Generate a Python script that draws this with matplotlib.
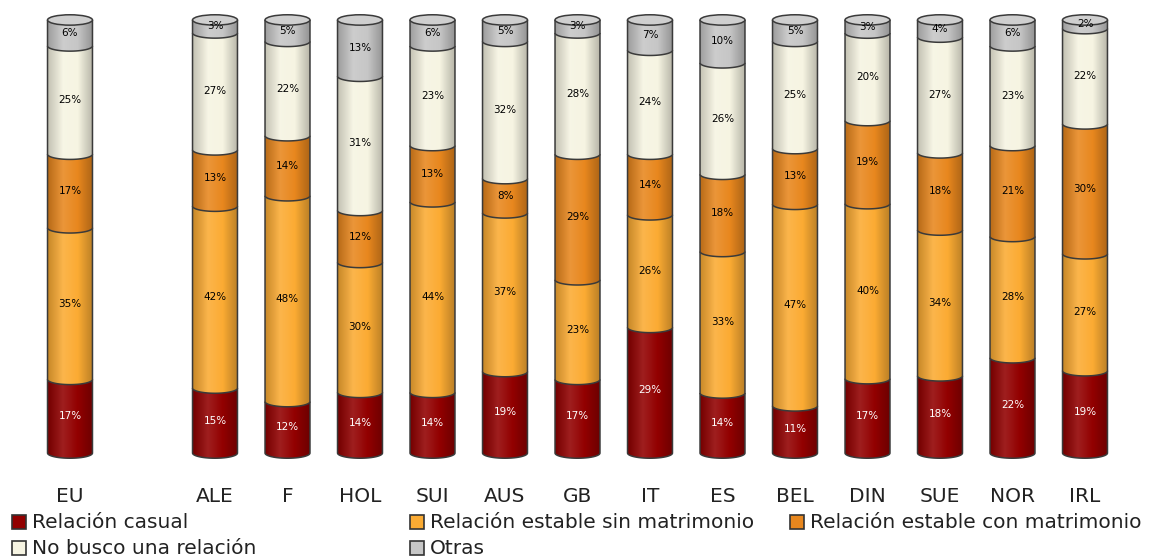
import numpy as np
import matplotlib
matplotlib.use("Agg")
import matplotlib.pyplot as plt
from matplotlib.path import Path
from matplotlib.patches import PathPatch, Ellipse, Rectangle
from matplotlib.colors import LinearSegmentedColormap, to_rgb

# data (percent, bottom to top)
countries = ["EU", "ALE", "F", "HOL", "SUI", "AUS", "GB", "IT", "ES", "BEL", "DIN", "SUE", "NOR", "IRL"]
positions = [0, 2, 3, 4, 5, 6, 7, 8, 9, 10, 11, 12, 13, 14]
casual = [17, 15, 12, 14, 14, 19, 17, 29, 14, 11, 17, 18, 22, 19]
sin_matrimonio = [35, 42, 48, 30, 44, 37, 23, 26, 33, 47, 40, 34, 28, 27]
con_matrimonio = [17, 13, 14, 12, 13, 8, 29, 14, 18, 13, 19, 18, 21, 30]
no_busco = [25, 27, 22, 31, 23, 32, 28, 24, 26, 25, 20, 27, 23, 22]
otras = [6, 3, 5, 13, 6, 5, 3, 7, 10, 5, 3, 4, 6, 2]

series = [casual, sin_matrimonio, con_matrimonio, no_busco, otras]
names = ["Relación casual", "Relación estable sin matrimonio", "Relación estable con matrimonio",
         "No busco una relación", "Otras"]
colors = ["#920000", "#fbab33", "#e8871e", "#f6f4e2", "#c6c6c6"]
text_colors = ["white", "black", "black", "black", "black"]

W = 1169
H = 560
fig = plt.figure(figsize=(W / 100, H / 100), dpi=100)
fig.patch.set_facecolor("white")

slot = 72.5
xmin = -70 / slot
xmax = xmin + W / slot
px_per = 4.35
ax = fig.add_axes([0, 1 - 462 / H, 1, (462 - 12) / H])
ax.set_xlim(xmin, xmax)
ax.set_ylim(-9 / px_per, 100 + 8 / px_per)
for s in ax.spines.values():
    s.set_visible(False)
ax.set_yticks([])

bw = 0.62
eh = 2.4  # ellipse height in percent units


def shade(c, f):
    r = np.array(to_rgb(c))
    if f >= 1:
        return tuple(r + (1 - r) * (f - 1))
    return tuple(r * f)


grad = np.linspace(0, 1, 64).reshape(1, -1)

for i, x in enumerate(positions):
    total = sum(s[i] for s in series)
    bottom = 0
    for k, vals in enumerate(series):
        v = vals[i]
        h = v * 100 / total  # stacked to 100%
        y0, y1 = bottom, bottom + h
        t = np.linspace(np.pi, 2 * np.pi, 40)
        arc = np.column_stack([x + bw / 2 * np.cos(t), y0 + eh / 2 * np.sin(t)])
        verts = np.vstack([[x - bw / 2, y1], arc, [x + bw / 2, y1], [x - bw / 2, y1]])
        codes = [Path.MOVETO] + [Path.LINETO] * (len(verts) - 2) + [Path.CLOSEPOLY]
        clip = PathPatch(Path(verts, codes), facecolor="none", edgecolor="none")
        ax.add_patch(clip)
        c = colors[k]
        cmap = LinearSegmentedColormap.from_list(
            "g", [shade(c, 0.8), shade(c, 1.12), c, shade(c, 0.75)])
        im = ax.imshow(grad, extent=[x - bw / 2, x + bw / 2, y0 - eh / 2, y1],
                       cmap=cmap, aspect="auto", interpolation="bilinear", zorder=2 + k)
        im.set_clip_path(clip)
        outline = np.vstack([[x - bw / 2, y1], arc, [x + bw / 2, y1]])
        ax.add_patch(PathPatch(Path(outline), facecolor="none", edgecolor="#3a3a3a",
                               lw=1.1, zorder=2.5 + k))
        ax.text(x, (y0 + y1) / 2, f"{v}%", ha="center", va="center", fontsize=7.5,
                color=text_colors[k], zorder=10)
        bottom = y1
    # top cap
    ax.add_patch(Ellipse((x, bottom), bw, eh, facecolor=shade(colors[-1], 1.15),
                         edgecolor="#3a3a3a", lw=1.1, zorder=9))

ax.set_xticks(positions, countries)
ax.tick_params(axis="x", length=0, pad=18, labelsize=14.5)
for lab in ax.get_xticklabels():
    lab.set_fontfamily("DejaVu Sans")
    lab.set_color("#222222")

# legend, two rows
legend_pos = [(12, 522), (410, 522), (790, 522), (12, 548), (410, 548)]
for k, (lx, ly) in enumerate(legend_pos):
    fig.patches.append(Rectangle((lx / W, 1 - (ly + 7) / H), 14 / W, 14 / H,
                                 transform=fig.transFigure, facecolor=colors[k],
                                 edgecolor="#333333", lw=1.2))
    fig.text((lx + 20) / W, 1 - ly / H, names[k], ha="left", va="center",
             fontsize=14.5, family="DejaVu Sans", color="#222222")

fig.savefig("out.png", dpi=100, facecolor="white")
